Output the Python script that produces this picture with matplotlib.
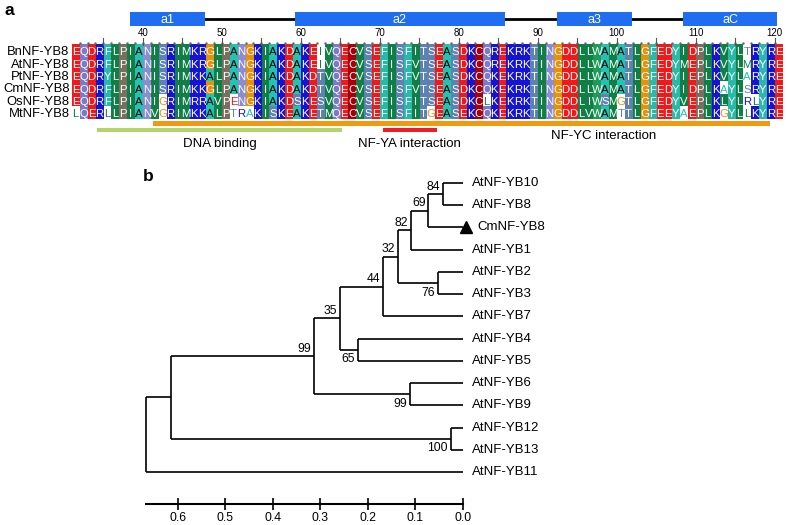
import numpy as np
import matplotlib.pyplot as plt
from matplotlib.patches import Rectangle
from matplotlib.colors import to_rgb
from matplotlib.transforms import offset_copy

plt.rcParams['font.family'] = ['Liberation Sans', 'DejaVu Sans']

# ---------------- panel a: alignment data ----------------
names = ['BnNF-YB8', 'AtNF-YB8', 'PtNF-YB8', 'CmNF-YB8', 'OsNF-YB8', 'MtNF-YB8']
seqs = [
    'EQDRFLPIANISRIMKRGLPANGKIAKDAKEIVQECVSEFISFITSEASDKCQREKRKTINGDDLLWAMATLGFEDYIDPLKVYLTRYRE',
    'EQDRFLPIANISRIMKRGLPANGKIAKDAKEIVQECVSEFISFVTSEASDKCQREKRKTINGDDLLWAMATLGFEDYMEPLKVYLMRYRE',
    'EQDRYLPIANISRIMKKALPANGKIAKDAKDTVQECVSEFISFVTSEASDKCQKEKRKTINGDDLLWAMATLGFEDYIEPLKVYLARYRE',
    'EQDRFLPIANISRIMKKGLPANGKIAKDAKDTVQECVSEFISFVTSEASDKCQKEKRKTINGDDLLWAMATLGFEDYIDPLKAYLSRYRE',
    'EQDRFLPIANIGRIMRRAVPENGKIAKDSKESVQECVSEFISFITSEASDKCLKEKRKTINGDDLIWSMGTLGFEDYVEPLKLYLRLYRE',
    'LQERLLPIANVGRIMKKALPTRAKISKEAKETMQECVSEFISFITGEASEKCQKEKRKTINGDDLVWAMTTLGFEEYAEPLKGYLLKYRE',
]
# alignment columns (1-based) drawn on white, i.e. not shaded
unshaded = [
    [32, 86],
    [32, 86],
    [86],
    [83, 86],
    [12, 21, 53, 70, 86, 87],
    [1, 5, 12, 21, 22, 23, 46, 70, 78, 83, 86],
]
first_res = 31
ruler_major = list(range(35, 121, 5))
ruler_labels = list(range(40, 121, 10))

helix_names = ['a1', 'a2', 'a3', 'aC']
helix_start = [37.9, 58.75, 91.9, 107.9]
helix_end = [47.4, 85.3, 101.4, 119.8]

region_names = ['DNA binding', 'NF-YA interaction']
region_start = [33.7, 69.9]
region_end = [64.7, 76.7]
nfyc_name = 'NF-YC interaction'
nfyc_start, nfyc_end = 40.8, 118.9

res_colors = {
    'E': '#f01818', 'D': '#f01818',
    'K': '#1414d2', 'R': '#1414d2',
    'Q': '#7a7ac6', 'N': '#8c8cd2',
    'S': '#5d82b2', 'T': '#5d82b2',
    'G': '#e8900c', 'P': '#7a6e60', 'C': '#a8000a',
    'A': '#22c3b2', 'F': '#2ab8a8', 'Y': '#2ab8a8',
    'I': '#0f7f46', 'L': '#0f7f46', 'M': '#0f7f46', 'V': '#0f7f46',
    'W': '#1e9a5a',
}

# ---------------- panel b: tree data ----------------
leaves = ['AtNF-YB10', 'AtNF-YB8', 'CmNF-YB8', 'AtNF-YB1', 'AtNF-YB2', 'AtNF-YB3',
          'AtNF-YB7', 'AtNF-YB4', 'AtNF-YB5', 'AtNF-YB6', 'AtNF-YB9', 'AtNF-YB12',
          'AtNF-YB13', 'AtNF-YB11']
clade_children = [
    ('AtNF-YB10', 'AtNF-YB8'),
    ('c0', 'CmNF-YB8'),
    ('c1', 'AtNF-YB1'),
    ('AtNF-YB2', 'AtNF-YB3'),
    ('c2', 'c3'),
    ('c4', 'AtNF-YB7'),
    ('AtNF-YB4', 'AtNF-YB5'),
    ('c5', 'c6'),
    ('AtNF-YB6', 'AtNF-YB9'),
    ('c7', 'c8'),
    ('AtNF-YB12', 'AtNF-YB13'),
    ('c9', 'c10'),
    ('c11', 'AtNF-YB11'),
]
clade_height = [0.041, 0.072, 0.109, 0.053, 0.137, 0.168, 0.221, 0.258,
                0.111, 0.314, 0.025, 0.614, 0.667]
bootstrap = ['84', '69', '82', '76', '32', '44', '65', '35', '99', '99', '100', '', '']
boot_below = [False, False, False, True, False, False, True, False, True, False,
              True, False, False]
marked_leaf = 'CmNF-YB8'
scale_ticks = [0.0, 0.1, 0.2, 0.3, 0.4, 0.5, 0.6]

W, H = 787, 525
fig = plt.figure(figsize=(W / 100, H / 100), dpi=100)

# ---------------- alignment ----------------
ncol = len(seqs[0])
ax = fig.add_axes([71.7 / W, 1 - 150 / H, 711 / W, 150 / H])
ax.set_xlim(first_res - 0.5, first_res - 0.5 + ncol)
ax.set_ylim(8.5, -3.64)
ax.axis('off')

rgb = np.ones((len(seqs), ncol, 3))
for i, seq in enumerate(seqs):
    for j, aa in enumerate(seq):
        if j + 1 not in unshaded[i]:
            rgb[i, j] = to_rgb(res_colors[aa])
ax.imshow(rgb, extent=(first_res - 0.5, first_res - 0.5 + ncol, len(seqs), 0),
          aspect='auto', interpolation='nearest')

for i, (name, seq) in enumerate(zip(names, seqs)):
    for j, aa in enumerate(seq):
        if j + 1 in unshaded[i]:
            tc = res_colors[aa]
        else:
            tc = 'black' if aa == 'A' else 'white'
        ax.text(first_res + j, i + 0.85, aa, color=tc, fontsize=8.2,
                ha='center', va='baseline')
    ax.text(first_res - 0.75, i + 0.84, name, fontsize=9.4, ha='right', va='baseline')

# ruler
dots = np.arange(first_res + 1, first_res + ncol) - 0.5
ax.plot(dots, np.full(len(dots), -0.2), ls='none', marker='.', ms=1.5, color='#666666')
for r in ruler_major:
    ax.plot([r - 0.5, r - 0.5], [-0.6, 0], color='#555555', lw=0.8)
for r in ruler_labels:
    ax.text(r - 0.5, -0.97, str(r), fontsize=7, ha='center', va='center')

# secondary structure
ax.plot([helix_end[0], helix_start[-1]], [-2.08, -2.08], color='black', lw=2, zorder=1)
for nm, s, e in zip(helix_names, helix_start, helix_end):
    ax.add_patch(Rectangle((s, -2.65), e - s, 1.12, fc='#1f6ef2', ec='none', zorder=2))
    ax.text((s + e) / 2, -2.06, nm, color='white', fontsize=9, ha='center',
            va='center', zorder=3)

# functional regions
ax.add_patch(Rectangle((nfyc_start, 6.13), nfyc_end - nfyc_start, 0.4,
                       fc='#f09a10', ec='none'))
ax.text((region_end[1] + nfyc_end) / 2, 7.37, nfyc_name, fontsize=9.5,
        ha='center', va='center')
for nm, s, e, c in zip(region_names, region_start, region_end, ['#b5d46a', '#ee1c25']):
    ax.add_patch(Rectangle((s, 6.74), e - s, 0.3, fc=c, ec='none'))
    ax.text((s + e) / 2, 8.02, nm, fontsize=9.5, ha='center', va='center')

# ---------------- tree ----------------
ax2 = fig.add_axes([140 / W, 0, 460 / W, 365 / H])
ax2.set_xlim(0.6794, -0.2891)
ax2.set_ylim(15.385, -1.035)
ax2.patch.set_visible(False)

pos = {nm: (0.0, k) for k, nm in enumerate(leaves)}
for k, (kids, h) in enumerate(zip(clade_children, clade_height)):
    ys = [pos[c][1] for c in kids]
    pos['c%d' % k] = (h, np.mean(ys))
    ax2.plot([h, h], [min(ys), max(ys)], color='black', lw=1.2, solid_capstyle='butt')
    for c in kids:
        ax2.plot([h, pos[c][0]], [pos[c][1], pos[c][1]], color='black', lw=1.2,
                 solid_capstyle='butt')
    if bootstrap[k]:
        if boot_below[k]:
            tr = offset_copy(ax2.transData, fig, x=-2, y=-2.5, units='points')
            va = 'top'
        else:
            tr = offset_copy(ax2.transData, fig, x=-2, y=1, units='points')
            va = 'bottom'
        ax2.text(h, pos['c%d' % k][1], bootstrap[k], transform=tr, fontsize=8.7,
                 ha='right', va=va)

for k, nm in enumerate(leaves):
    dx = 6.5
    if nm == marked_leaf:
        ax2.plot([0], [k], marker='^', ms=9, color='black', ls='none',
                 transform=offset_copy(ax2.transData, fig, x=2.3, units='points'),
                 clip_on=False)
        dx = 10.5
    ax2.text(0, k, nm, fontsize=9.5, ha='left', va='center',
             transform=offset_copy(ax2.transData, fig, x=dx, units='points'))

for s in ['top', 'right', 'left']:
    ax2.spines[s].set_visible(False)
ax2.spines['bottom'].set_position(('data', 14.44))
ax2.spines['bottom'].set_bounds(0, clade_height[-1])
ax2.spines['bottom'].set_linewidth(1.5)
ax2.set_xticks(scale_ticks)
ax2.set_xticklabels(['%.1f' % t for t in scale_ticks])
ax2.tick_params(axis='x', direction='inout', length=8, width=1.2, labelsize=8.8, pad=2)
ax2.set_yticks([])

fig.text(9 / W, 1 - 10.5 / H, 'a', fontsize=12.5, fontweight='bold', ha='center', va='center')
fig.text(148 / W, 1 - 176.7 / H, 'b', fontsize=12.5, fontweight='bold', ha='center', va='center')

fig.savefig('out.png', dpi=100)
